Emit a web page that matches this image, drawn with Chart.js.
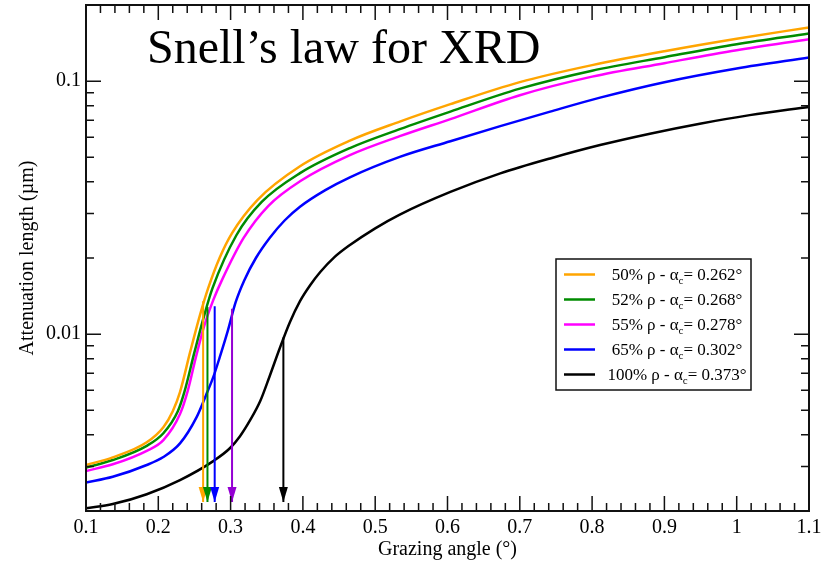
<!DOCTYPE html>
<html>
<head>
<meta charset="utf-8">
<title>Snell’s law for XRD</title>
<script src="https://cdn.jsdelivr.net/npm/chart.js@4.4.1/dist/chart.umd.min.js"></script>
<style>
  html, body { margin: 0; padding: 0; background: #fff; }
  canvas { display: block; }
</style>
</head>
<body>
<canvas id="chart_snell" width="823" height="564"></canvas>
<script>
// grazing angle (deg) and attenuation length (um) for each film density
var angle50 = [0.100, 0.137, 0.184, 0.207, 0.220, 0.230, 0.244, 0.258, 0.269, 0.285, 0.302, 0.337, 0.396, 0.465, 0.534, 0.604, 0.700, 0.800, 0.900, 1.000, 1.100]
var len50 = [0.00304, 0.00326, 0.00374, 0.00429, 0.00496, 0.00590, 0.00849, 0.0120, 0.0152, 0.0201, 0.0251, 0.0339, 0.0461, 0.0582, 0.0692, 0.0811, 0.0991, 0.1157, 0.1314, 0.1472, 0.1631]

var angle52 = [0.100, 0.137, 0.184, 0.207, 0.227, 0.236, 0.250, 0.264, 0.275, 0.308, 0.343, 0.396, 0.465, 0.534, 0.604, 0.700, 0.800, 0.900, 1.000, 1.100]
var len52 = [0.00297, 0.00318, 0.00362, 0.00406, 0.00496, 0.00590, 0.00849, 0.0120, 0.0152, 0.0246, 0.0333, 0.0433, 0.0544, 0.0646, 0.0758, 0.0934, 0.1100, 0.1244, 0.1400, 0.1543]

var angle55 = [0.100, 0.137, 0.184, 0.207, 0.230, 0.241, 0.252, 0.263, 0.276, 0.288, 0.318, 0.352, 0.396, 0.465, 0.534, 0.604, 0.700, 0.800, 0.900, 1.000, 1.100]
var len55 = [0.00288, 0.00306, 0.00346, 0.00381, 0.00483, 0.00601, 0.00811, 0.01066, 0.01363, 0.01635, 0.0240, 0.0321, 0.0402, 0.0510, 0.0606, 0.0708, 0.0880, 0.1042, 0.1178, 0.1326, 0.1466]

var angle65 = [0.100, 0.137, 0.184, 0.207, 0.230, 0.253, 0.266, 0.276, 0.285, 0.296, 0.307, 0.319, 0.335, 0.354, 0.375, 0.396, 0.431, 0.465, 0.534, 0.604, 0.673, 0.742, 0.811, 0.900, 1.000, 1.100]
var len65 = [0.00259, 0.00273, 0.00304, 0.00327, 0.00370, 0.00470, 0.00574, 0.00676, 0.00811, 0.01028, 0.01338, 0.01635, 0.0200, 0.0240, 0.0282, 0.0319, 0.0371, 0.0417, 0.0502, 0.0579, 0.0664, 0.0758, 0.0861, 0.0991, 0.1123, 0.1241]

var angle100 = [0.100, 0.137, 0.184, 0.230, 0.276, 0.299, 0.313, 0.327, 0.341, 0.354, 0.368, 0.382, 0.396, 0.410, 0.424, 0.444, 0.463, 0.500, 0.534, 0.604, 0.673, 0.742, 0.811, 0.880, 0.949, 1.018, 1.100]
var len100 = [0.00205, 0.00213, 0.00233, 0.00265, 0.00315, 0.00354, 0.00395, 0.00457, 0.00544, 0.00682, 0.00880, 0.01115, 0.0135, 0.0156, 0.0176, 0.0202, 0.0223, 0.0262, 0.0297, 0.0365, 0.0432, 0.0495, 0.0559, 0.0620, 0.0679, 0.0734, 0.0791]

var densities = ['50%', '52%', '55%', '65%', '100%']
var alphaC = [0.262, 0.268, 0.278, 0.302, 0.373]
var curveColors = ['#ffa500', '#008b00', '#ff00ff', '#0000ff', '#000000']

// critical angle markers: top end of each arrow, common tip
var arrowColors = ['#ffa500', '#008b00', '#0000ff', '#9400d3', '#000000']
var arrowTop = [0.0135, 0.0128, 0.0129, 0.0126, 0.0097]
var arrowTip = 0.00217

var xTicks = [0.1, 0.2, 0.3, 0.4, 0.5, 0.6, 0.7, 0.8, 0.9, 1.0, 1.1]
var xTickLabels = ['0.1', '0.2', '0.3', '0.4', '0.5', '0.6', '0.7', '0.8', '0.9', '1', '1.1']
var yTicks = [0.01, 0.1]
var yMinor = [0.002, 0.003, 0.004, 0.005, 0.006, 0.007, 0.008, 0.009,
              0.02, 0.03, 0.04, 0.05, 0.06, 0.07, 0.08, 0.09, 0.2]

var chartTitle = 'Snell’s law for XRD'
var serif = '"Liberation Serif", "Times New Roman", serif'

var curves = [[angle50, len50], [angle52, len52], [angle55, len55], [angle65, len65], [angle100, len100]]

var datasets = curves.map(function (c, i) {
    return {
        label: densities[i],
        data: c[0].map(function (a, j) { return {x: a, y: c[1][j]} }),
        borderColor: curveColors[i],
        borderWidth: 2.5,
        pointRadius: 0,
        cubicInterpolationMode: 'monotone',
        order: 1
    }
})
alphaC.forEach(function (a, i) {
    datasets.push({
        isArrow: true,
        data: [{x: a, y: arrowTop[i]}, {x: a, y: arrowTip}],
        borderColor: arrowColors[i],
        borderWidth: 2,
        pointRadius: 0,
        order: 0
    })
})

// four minor ticks between every pair of major x ticks
var xMinor = []
for (var k = 0; k < xTicks.length - 1; k++) {
    for (var m = 1; m < 5; m++) xMinor.push(xTicks[k] + (xTicks[k + 1] - xTicks[k]) * m / 5)
}

var arrowHeads = {
    id: 'arrowHeads',
    afterDatasetsDraw: function (chart) {
        var ctx = chart.ctx
        chart.data.datasets.forEach(function (ds, i) {
            if (!ds.isArrow) return
            var tip = chart.getDatasetMeta(i).data[1]
            ctx.save()
            ctx.fillStyle = ds.borderColor
            ctx.beginPath()
            ctx.moveTo(tip.x, tip.y)
            ctx.lineTo(tip.x - 4.5, tip.y - 15)
            ctx.lineTo(tip.x + 4.5, tip.y - 15)
            ctx.closePath()
            ctx.fill()
            ctx.restore()
        })
    }
}

// frame with inward ticks on all four sides
var frameTicks = {
    id: 'frameTicks',
    afterDraw: function (chart) {
        var ctx = chart.ctx, a = chart.chartArea
        var xs = chart.scales.x, ys = chart.scales.y
        ctx.save()
        ctx.strokeStyle = '#111'
        ctx.lineWidth = 1.5
        ctx.beginPath()
        function xt(v, len) {
            var p = xs.getPixelForValue(v)
            ctx.moveTo(p, a.bottom); ctx.lineTo(p, a.bottom - len)
            ctx.moveTo(p, a.top); ctx.lineTo(p, a.top + len)
        }
        function yt(v, len) {
            var p = ys.getPixelForValue(v)
            ctx.moveTo(a.left, p); ctx.lineTo(a.left + len, p)
            ctx.moveTo(a.right, p); ctx.lineTo(a.right - len, p)
        }
        xTicks.forEach(function (v) { xt(v, 15) })
        xMinor.forEach(function (v) { xt(v, 8) })
        yTicks.forEach(function (v) { yt(v, 15) })
        yMinor.forEach(function (v) { yt(v, 8) })
        ctx.stroke()
        ctx.lineWidth = 2
        ctx.strokeRect(a.left, a.top, a.right - a.left, a.bottom - a.top)
        ctx.restore()
    }
}

var titleText = {
    id: 'titleText',
    afterDraw: function (chart) {
        var ctx = chart.ctx, a = chart.chartArea
        ctx.save()
        ctx.fillStyle = '#000'
        ctx.font = '48px ' + serif
        ctx.textBaseline = 'alphabetic'
        ctx.fillText(chartTitle, a.left + 61, a.top + 57.5)
        ctx.restore()
    }
}

// legend box with subscripted alpha_c
var densityLegend = {
    id: 'densityLegend',
    afterDraw: function (chart) {
        var ctx = chart.ctx, a = chart.chartArea
        var bx = a.right - 253, by = a.top + 254
        ctx.save()
        ctx.fillStyle = '#fff'
        ctx.fillRect(bx, by, 195, 131)
        ctx.strokeStyle = '#111'
        ctx.lineWidth = 1.5
        ctx.strokeRect(bx, by, 195, 131)
        ctx.textBaseline = 'alphabetic'
        densities.forEach(function (d, i) {
            var y = by + 15.5 + i * 25
            ctx.strokeStyle = curveColors[i]
            ctx.lineWidth = 2.5
            ctx.beginPath()
            ctx.moveTo(bx + 8, y)
            ctx.lineTo(bx + 39, y)
            ctx.stroke()

            var main = d + ' ρ - α', sub = 'c', rest = '= ' + alphaC[i].toFixed(3) + '°'
            ctx.font = '17px ' + serif
            var w1 = ctx.measureText(main).width, w3 = ctx.measureText(rest).width
            ctx.font = '11px ' + serif
            var w2 = ctx.measureText(sub).width
            var x = bx + 121 - (w1 + w2 + w3) / 2
            ctx.fillStyle = '#000'
            ctx.font = '17px ' + serif
            ctx.fillText(main, x, y + 5)
            ctx.font = '11px ' + serif
            ctx.fillText(sub, x + w1, y + 9.5)
            ctx.font = '17px ' + serif
            ctx.fillText(rest, x + w1 + w2, y + 5)
        })
        ctx.restore()
    }
}

Chart.defaults.font.family = serif
Chart.defaults.color = '#000'

var ctx = document.getElementById('chart_snell')

var chart_snell = new Chart(ctx, {
    type: 'line',
    data: { datasets: datasets },
    options: {
        responsive: false,
        animation: false,
        layout: { padding: { top: 5, right: 14, left: 0, bottom: 0 } },
        plugins: { legend: { display: false }, tooltip: { enabled: false } },
        scales: {
            x: {
                type: 'linear',
                min: 0.1,
                max: 1.1,
                grid: { display: false, drawTicks: false },
                border: { display: false },
                afterBuildTicks: function (s) { s.ticks = xTicks.map(function (v) { return {value: v} }) },
                afterFit: function (s) { s.height = 53; s.paddingLeft = 0; s.paddingRight = 0 },
                ticks: {
                    autoSkip: false,
                    maxRotation: 0,
                    padding: 5,
                    font: { size: 20 },
                    callback: function (v, i) { return xTickLabels[i] }
                },
                title: { display: true, text: 'Grazing angle (°)', font: { size: 20 }, padding: { top: 0, bottom: 2 } }
            },
            y: {
                type: 'logarithmic',
                min: 0.002,
                max: 0.2,
                grid: { display: false, drawTicks: false },
                border: { display: false },
                afterBuildTicks: function (s) { s.ticks = yTicks.map(function (v) { return {value: v} }) },
                afterFit: function (s) { s.width = 86; s.paddingTop = 0; s.paddingBottom = 0 },
                ticks: {
                    autoSkip: false,
                    padding: 5,
                    font: { size: 20 },
                    callback: function (v) { return String(v) }
                },
                title: { display: true, text: 'Attenuation length (µm)', font: { size: 20 }, padding: { top: 16, bottom: 0 } }
            }
        }
    },
    plugins: [arrowHeads, frameTicks, titleText, densityLegend]
})
</script>
</body>
</html>
